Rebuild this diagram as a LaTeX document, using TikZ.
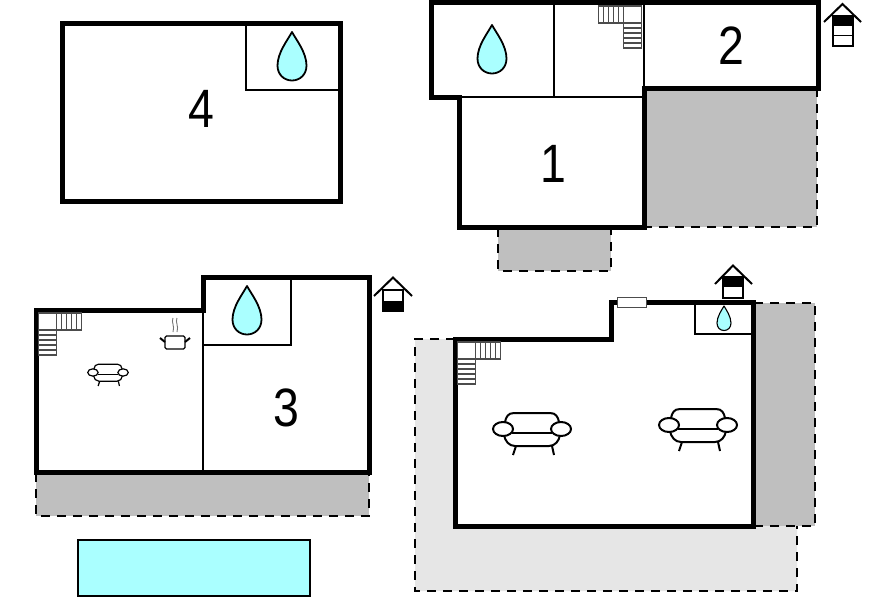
\documentclass[tikz,border=0pt]{standalone}
\usepackage{fontspec}
\usepackage{graphicx}
\setmainfont{Liberation Sans}
\definecolor{darkt}{HTML}{BFBFBF}
\definecolor{lightt}{HTML}{E6E6E6}
\definecolor{aqua}{HTML}{AAFFFF}
\newcommand{\nrw}[1]{\scalebox{.86}[1]{#1}}
\tikzset{
  wall/.style={line width=5pt,line join=miter,draw=black},
  inner/.style={line width=2.4pt,draw=black},
  dashline/.style={draw=black,line width=2.4pt,dash pattern=on 9pt off 7pt},
  num/.style={font=\fontsize{54}{54}\selectfont,inner sep=0pt,text=black},
  stairline/.style={line width=1.1pt,draw=black!70},
  pics/drop/.style={code={
    \draw[fill=aqua,line width=1.8pt,line join=round]
      (0,-24.5) .. controls (4,-17) and (14.5,-4) .. (14.5,9)
      .. controls (14.5,18) and (8,24) .. (0,24)
      .. controls (-8,24) and (-14.5,18) .. (-14.5,9)
      .. controls (-14.5,-4) and (-4,-17) .. (0,-24.5) -- cycle;}},
  pics/smalldrop/.style={code={
    \draw[fill=aqua,line width=1.1pt,line join=round]
      (0,-12.5) .. controls (2,-9) and (7,-2) .. (7,4.5)
      .. controls (7,9) and (4,12) .. (0,12)
      .. controls (-4,12) and (-7,9) .. (-7,4.5)
      .. controls (-7,-2) and (-2,-9) .. (0,-12.5) -- cycle;}},
  pics/sofa/.style={code={
    \draw[line width=#1]
      (-27,-8) .. controls (-26,-13) and (-24,-17) .. (-18,-17) -- (18,-17)
      .. controls (24,-17) and (26,-13) .. (27,-8);
    \draw[line width=#1] (-20,3) -- (20,3);
    \draw[line width=#1]
      (-28,5) .. controls (-27,11) and (-23,16) .. (-17,16) -- (17,16)
      .. controls (23,16) and (27,11) .. (28,5);
    \draw[line width=#1] (-16,16) -- (-19,25) (20,16) -- (22,25);
    \draw[line width=#1,fill=white] (-29,-1) ellipse [x radius=10,y radius=7];
    \draw[line width=#1,fill=white] (29,-1) ellipse [x radius=10,y radius=7];}},
  pics/stairs/.style={code={
    \draw[stairline] (0,0) rectangle (43,17);
    \draw[stairline] (0,17) rectangle (18,42);
    \draw[stairline] (18,0) -- (18,17);
    \foreach \x in {23,28,33,38} \draw[stairline] (\x,0) -- (\x,17);
    \foreach \y in {22,27,32,37} \draw[stairline] (0,\y) -- (18,\y);}},
  pics/stairsflip/.style={code={
    \draw[stairline] (0,0) rectangle (-43,17);
    \draw[stairline] (0,17) rectangle (-18,42);
    \draw[stairline] (-18,0) -- (-18,17);
    \foreach \x in {23,28,33,38} \draw[stairline] (-\x,0) -- (-\x,17);
    \foreach \y in {22,27,32,37} \draw[stairline] (0,\y) -- (-18,\y);}},
  roof/.style={line width=2pt,draw=black,line join=miter}
}
\begin{document}
\begin{tikzpicture}[x=1pt,y=-1pt]
\useasboundingbox (0,0) rectangle (896,597);
\fill[white] (0,0) rectangle (896,597);
% building 4
\draw[wall] (62,23) rectangle (340,201);
\draw[inner] (246,23) -- (246,90) -- (340,90);
\pic at (292,56.5) {drop};
\node[num] (n4) at (201,109) {\nrw{4}};
% building 1 and 2
\fill[darkt] (644,88) rectangle (817,227);
\draw[dashline] (817,88) -- (817,227) -- (644,227);
\fill[darkt] (498,228) rectangle (611,271);
\draw[dashline] (498,228) -- (498,271) -- (611,271) -- (611,228);
\draw[inner] (554,2) -- (554,97) (459,97) -- (644,97) (644,2) -- (644,88);
\draw[wall] (431,2) -- (818,2) -- (818,88) -- (644,88) -- (644,227) -- (459,227) -- (459,97) -- (431,97) -- cycle;
\pic at (492,49.5) {drop};
\pic at (641.5,6) {stairsflip};
\node[num] (n1) at (553,164) {\nrw{1}};
\node[num] (n2) at (731,46) {\nrw{2}};
% house icon top right
\draw[line width=1.8pt,fill=white] (833,16) rectangle (853,46);
\fill (833,16) rectangle (853,26);
\draw[line width=1.8pt] (833,35.5) -- (853,35.5);
\draw[roof] (824,22) -- (842.5,4) -- (861,22);
% building 3
\fill[darkt] (36,473) rectangle (369,516);
\draw[dashline] (36,473) -- (36,516) -- (369,516) -- (369,473);
\draw[inner] (203,310) -- (203,472) (203,345) -- (291,345) -- (291,277);
\draw[wall] (36,310) -- (203,310) -- (203,277) -- (369,277) -- (369,472) -- (36,472) -- cycle;
\pic at (247,310.5) {drop};
\pic at (38.5,313) {stairs};
\pic[scale=.52] at (108,373) {sofa={1.2pt}};
\node[num] (n3) at (286,408) {\nrw{3}};
% pot
\draw[line width=1.3pt,rounded corners=1.5pt] (165,336) -- (185,336) -- (185,349) -- (165,349) -- cycle;
\draw[line width=2pt] (165,342) -- (160,338) (185,342) -- (190,338);
\draw[line width=.9pt,draw=black!55] (173,318) .. controls (171,322) and (175,326) .. (173,332);
\draw[line width=.9pt,draw=black!55] (177,318) .. controls (175,322) and (179,326) .. (177,332);
% house icon left
\draw[line width=1.8pt,fill=white] (383,290) rectangle (403,311);
\fill (382,301) rectangle (404,311);
\draw[roof] (374,296) -- (393,277.5) -- (412,296);
% pool
\draw[fill=aqua,line width=1.6pt] (78,540) rectangle (310,596);
% building 5
\fill[lightt] (415,339) -- (455,339) -- (455,526) -- (797,526) -- (797,591) -- (415,591) -- cycle;
\draw[dashline] (455,339) -- (415,339) -- (415,591) -- (797,591) -- (797,526);
\fill[darkt] (754,303) rectangle (815,526);
\draw[dashline] (754,303) -- (815,303) -- (815,526) -- (754,526);
\draw[inner] (695,303) -- (695,334) -- (752,334);
\draw[wall] (455,339) -- (611,339) -- (611,302) -- (753,302) -- (753,526) -- (455,526) -- cycle;
\draw[line width=1pt,draw=black!70,fill=white] (617,297) rectangle (646,307);
\pic at (724,318.5) {smalldrop};
\pic at (457.5,342) {stairs};
\pic at (532,430) {sofa={2pt}};
\pic at (698,426) {sofa={2pt}};
% house icon bottom right
\draw[line width=1.8pt,fill=white] (723,277) rectangle (743,298);
\fill (723,277) rectangle (743,287);
\draw[roof] (715,284) -- (733,265.5) -- (752,284);
\end{tikzpicture}
\end{document}
